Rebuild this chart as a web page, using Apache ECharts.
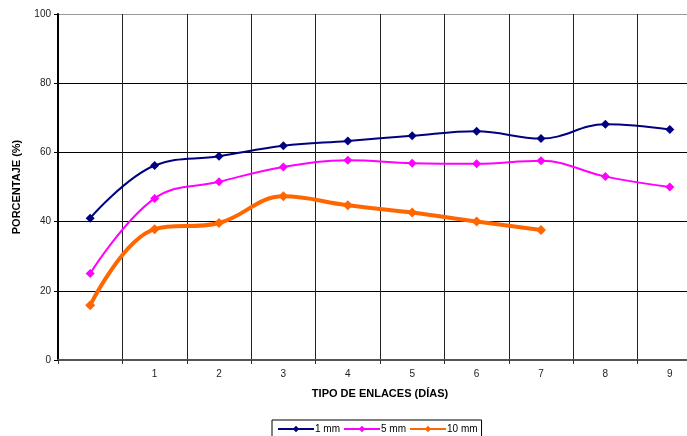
<!DOCTYPE html>
<html><head><meta charset="utf-8">
<script src="https://cdn.jsdelivr.net/npm/echarts@6/dist/echarts.min.js"></script>
<style>html,body{margin:0;padding:0;background:#fff}#c{width:687px;height:436px}</style>
</head><body><div id="c"></div>
<script>
var categories = ['', '1', '2', '3', '4', '5', '6', '7', '8', '9'];
var s1mm = [41.0, 56.2, 58.9, 61.9, 63.3, 64.8, 66.1, 64.0, 68.1, 66.6];
var s5mm = [25.0, 46.7, 51.5, 55.8, 57.7, 56.9, 56.7, 57.6, 53.0, 50.0];
var s10mm = [15.8, 37.8, 39.6, 47.3, 44.7, 42.6, 40.0, 37.6];
var yTicks = [0, 20, 40, 60, 80, 100];

var chart = echarts.init(document.getElementById('c'), null, {renderer: 'canvas'});
var font = 'Liberation Sans, Arial, sans-serif';
chart.setOption({
  animation: false,
  backgroundColor: '#fff',
  grid: {left: 58, width: 644, top: 14, height: 346, containLabel: false, outerBoundsMode: 'none'},
  legend: {
    bottom: -4, left: 272, itemGap: 3,
    padding: [4, 4, 6, 5],
    borderColor: '#000', borderWidth: 1,
    itemWidth: 36, itemHeight: 8,
    textStyle: {fontFamily: font, fontSize: 10, color: '#000', padding: [0, 0, 0, -4]},
    data: ['1 mm', '5 mm', '10 mm']
  },
  xAxis: {
    type: 'category', data: categories, boundaryGap: true,
    name: 'TIPO DE ENLACES (DÍAS)', nameLocation: 'middle', nameGap: 28,
    nameTextStyle: {fontFamily: font, fontSize: 11, fontWeight: 'bold', color: '#000'},
    axisLine: {lineStyle: {color: '#555', width: 2}},
    axisTick: {show: true, length: 4, lineStyle: {color: '#333'}},
    axisLabel: {fontFamily: font, fontSize: 10, color: '#222', margin: 9},
    splitLine: {show: true, lineStyle: {color: '#222', width: 1}}
  },
  yAxis: {
    type: 'value', min: 0, max: 100, interval: 20,
    name: 'PORCENTAJE (%)', nameLocation: 'middle', nameGap: 36, nameRotate: 90,
    nameTextStyle: {fontFamily: font, fontSize: 11, fontWeight: 'bold', color: '#000'},
    axisLine: {show: true, lineStyle: {color: '#000', width: 2}},
    axisTick: {show: true, length: 4, lineStyle: {color: '#000'}},
    axisLabel: {fontFamily: font, fontSize: 10, color: '#222', margin: 7,
      formatter: function (v) { return yTicks.indexOf(v) >= 0 ? String(v) : ''; }},
    splitLine: {show: true, lineStyle: {color: ['#000', '#000', '#000', '#000', '#000', '#999'], width: 1}}
  },
  series: [
    {name: '1 mm', type: 'line', data: s1mm, smooth: 0.4, symbol: 'diamond', symbolSize: 9,
      lineStyle: {color: '#000080', width: 2}, itemStyle: {color: '#000080'}},
    {name: '5 mm', type: 'line', data: s5mm, smooth: 0.4, symbol: 'diamond', symbolSize: 9,
      lineStyle: {color: '#FF00FF', width: 2}, itemStyle: {color: '#FF00FF'}},
    {name: '10 mm', type: 'line', data: s10mm, smooth: 0.4, symbol: 'diamond', symbolSize: 10,
      lineStyle: {color: '#FF6600', width: 4}, itemStyle: {color: '#FF6600'}}
  ]
});
</script></body></html>
